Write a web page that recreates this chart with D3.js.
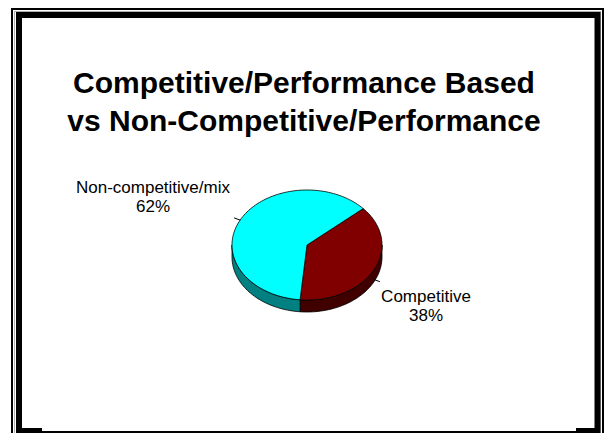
<!DOCTYPE html>
<html>
<head>
<meta charset="utf-8">
<script src="https://cdn.jsdelivr.net/npm/d3@7"></script>
<style>
  html, body { margin: 0; padding: 0; background: #fff; }
  svg { display: block; }
  text { font-family: Arial, "Liberation Sans", sans-serif; fill: #000; }
</style>
</head>
<body>
<script>
// Share of awards by procurement type
const categories = ["Competitive", "Non-competitive/mix"];
const values = [38, 62];
const valueLabels = ["38%", "62%"];
const topColors = ["#800000", "#00FFFF"];
const sideColors = ["#400000", "#008080"];
const titleLines = ["Competitive/Performance Based", "vs Non-Competitive/Performance"];

const W = 606, H = 433;
const svg = d3.select("body").append("svg").attr("width", W).attr("height", H);

// Slide frame: thin outer rule, grey hairline, heavy inner rule
svg.append("rect").attr("x", 12).attr("y", 9).attr("width", 591).attr("height", 440)
  .attr("fill", "none").attr("stroke", "#000").attr("stroke-width", 2);
svg.append("rect").attr("x", 14.5).attr("y", 11.5).attr("width", 586).attr("height", 440)
  .attr("fill", "none").attr("stroke", "#b0b0b0").attr("stroke-width", 1);
svg.append("rect").attr("x", 19).attr("y", 15).attr("width", 578.5).attr("height", 416)
  .attr("fill", "#fff").attr("stroke", "#000").attr("stroke-width", 6);
svg.append("rect").attr("x", 42).attr("y", 428).attr("width", 534).attr("height", 3).attr("fill", "#fff");

// Title
const title = svg.append("text").attr("text-anchor", "middle")
  .attr("font-weight", "bold").attr("font-size", 30);
titleLines.forEach((t, i) => {
  title.append("tspan").attr("x", 304).attr("y", 93 + i * 38).text(t);
});

// 3D pie geometry
const cx = 307, cy = 245, rx = 75, ry = 55, depth = 12;
const deg = Math.PI / 180;
const pie = d3.pie().sort(null).startAngle(48.5 * deg).endAngle((48.5 + 360) * deg);
const arcs = pie(values);

const px = a => cx + rx * Math.sin(a);
const py = a => cy - ry * Math.cos(a);

function arcPoints(a0, a1, dy) {
  const n = Math.max(2, Math.ceil(Math.abs(a1 - a0) / (2 * deg)));
  const pts = [];
  for (let i = 0; i <= n; i++) {
    const a = a0 + (a1 - a0) * i / n;
    pts.push([px(a), py(a) + dy]);
  }
  return pts;
}

// Side walls: only the front half (angles between 90° and 270°) shows
const g = svg.append("g");
arcs.forEach((d, i) => {
  const ranges = [];
  [[Math.PI / 2, 3 * Math.PI / 2], [Math.PI / 2 + 2 * Math.PI, 3 * Math.PI / 2 + 2 * Math.PI]]
    .forEach(([lo, hi]) => {
      const a0 = Math.max(d.startAngle, lo), a1 = Math.min(d.endAngle, hi);
      if (a1 > a0) ranges.push([a0, a1]);
    });
  ranges.forEach(([a0, a1]) => {
    const pts = arcPoints(a0, a1, 0).concat(arcPoints(a1, a0, depth));
    g.append("path").attr("d", d3.line()(pts) + "Z")
      .attr("fill", sideColors[i]).attr("stroke", "#000").attr("stroke-width", 0.8)
      .attr("stroke-linejoin", "round");
  });
});

// Top faces
arcs.forEach((d, i) => {
  const pts = [[cx, cy]].concat(arcPoints(d.startAngle, d.endAngle, 0));
  g.append("path").attr("d", d3.line()(pts) + "Z")
    .attr("fill", topColors[i]).attr("stroke", "#000").attr("stroke-width", 0.8)
    .attr("stroke-linejoin", "round");
});

// Data labels with short leader lines
const labelPos = [[426, 302], [153, 193]];
arcs.forEach((d, i) => {
  const mid = (d.startAngle + d.endAngle) / 2;
  const front = Math.cos(mid) < 0;
  const dy = front ? depth * 0.8 : 0;
  const x1 = px(mid), y1 = py(mid) + dy;
  const x2 = cx + rx * 1.09 * Math.sin(mid), y2 = cy - ry * 1.09 * Math.cos(mid) + dy;
  svg.append("line").attr("x1", x1).attr("y1", y1).attr("x2", x2).attr("y2", y2)
    .attr("stroke", "#000").attr("stroke-width", 1);
  const t = svg.append("text").attr("text-anchor", "middle").attr("font-size", 17);
  t.append("tspan").attr("x", labelPos[i][0]).attr("y", labelPos[i][1]).text(categories[i]);
  t.append("tspan").attr("x", labelPos[i][0]).attr("y", labelPos[i][1] + 19).text(valueLabels[i]);
});
</script>
</body>
</html>
